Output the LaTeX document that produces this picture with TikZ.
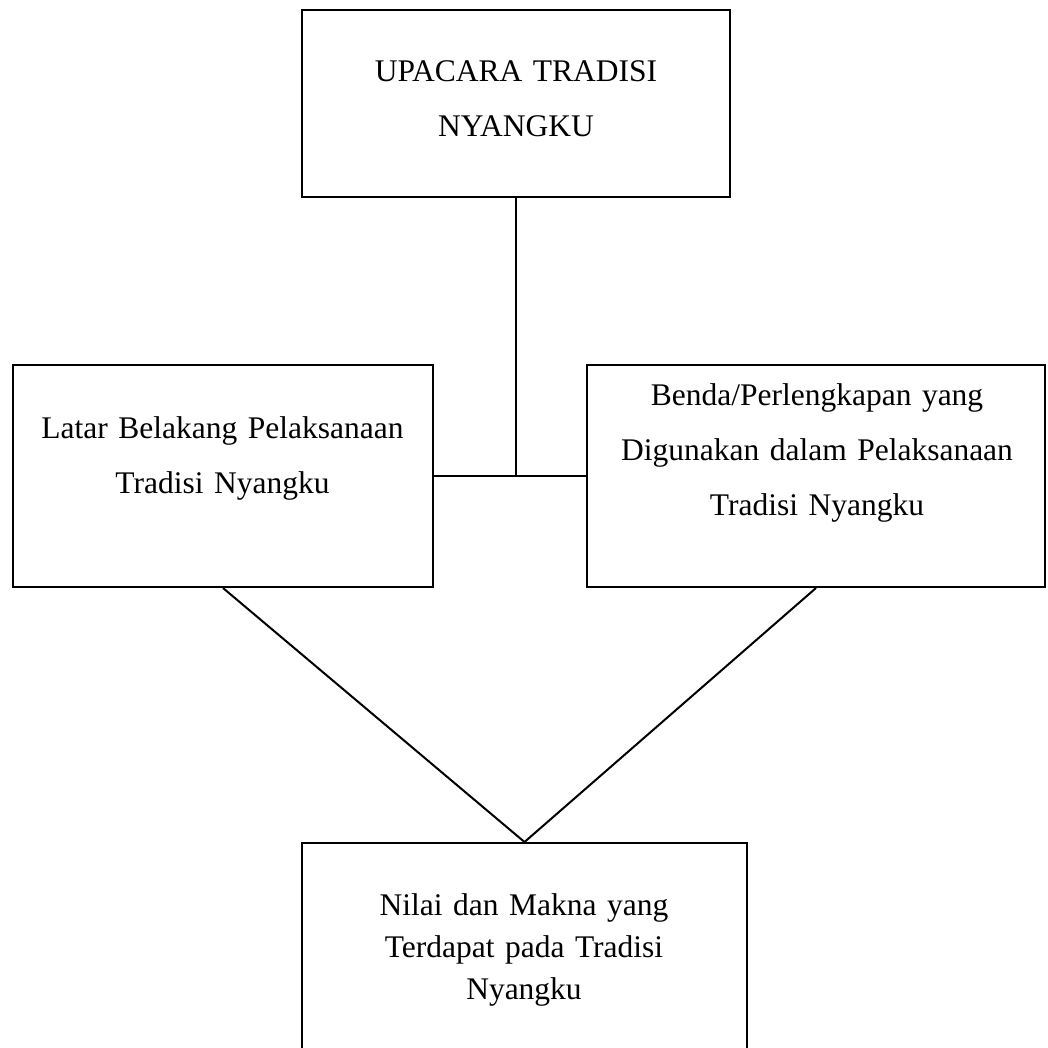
\documentclass[tikz,border=0pt]{standalone}
\usepackage{fontspec}
\setmainfont{Liberation Serif}
\begin{document}
\begin{tikzpicture}[x=1pt,y=-1pt,
        box/.style={draw,line width=2pt,rectangle,inner sep=0pt},
        txt/.style={text width=#1,align=center,inner sep=0pt,anchor=base,
                    font=\fontsize{31.5}{55}\selectfont},
        txt/.default=420pt,
        link/.style={line width=2pt}]
        \clip (0,0) rectangle (1047,1048);

        % Kotak
        \node[box,minimum width=428pt,minimum height=187pt] (upacara) at (516,103.5) {};
        \node[box,minimum width=420pt,minimum height=222pt] (latar) at (223,476) {};
        \node[box,minimum width=458pt,minimum height=222pt] (benda) at (816,476) {};
        \node[box,minimum width=445pt,minimum height=217pt] (nilai) at (524.5,951.5) {};

        % Teks
        \node[txt=420pt] (upacaratxt) at (516,82) {UPACARA TRADISI\\NYANGKU};
        \node[txt=410pt] (latartxt) at (222.5,438) {Latar Belakang Pelaksanaan\\Tradisi Nyangku};
        \node[txt=450pt] (bendatxt) at (817,405) {Benda/Perlengkapan yang\\Digunakan dalam Pelaksanaan\\Tradisi Nyangku};
        \node[txt=440pt,font=\fontsize{31.5}{42}\selectfont] (nilaitxt) at (524,915) {Nilai dan Makna yang\\Terdapat pada Tradisi\\Nyangku};

        % Garis
        \draw[link] (latar.east) -- (benda.west);
        \draw[link] (upacara.south) -- (upacara.south |- latar.east);
        \draw[link] (latar.south) -- (nilai.north);
        \draw[link] (benda.south) -- (nilai.north);
\end{tikzpicture}
\end{document}
